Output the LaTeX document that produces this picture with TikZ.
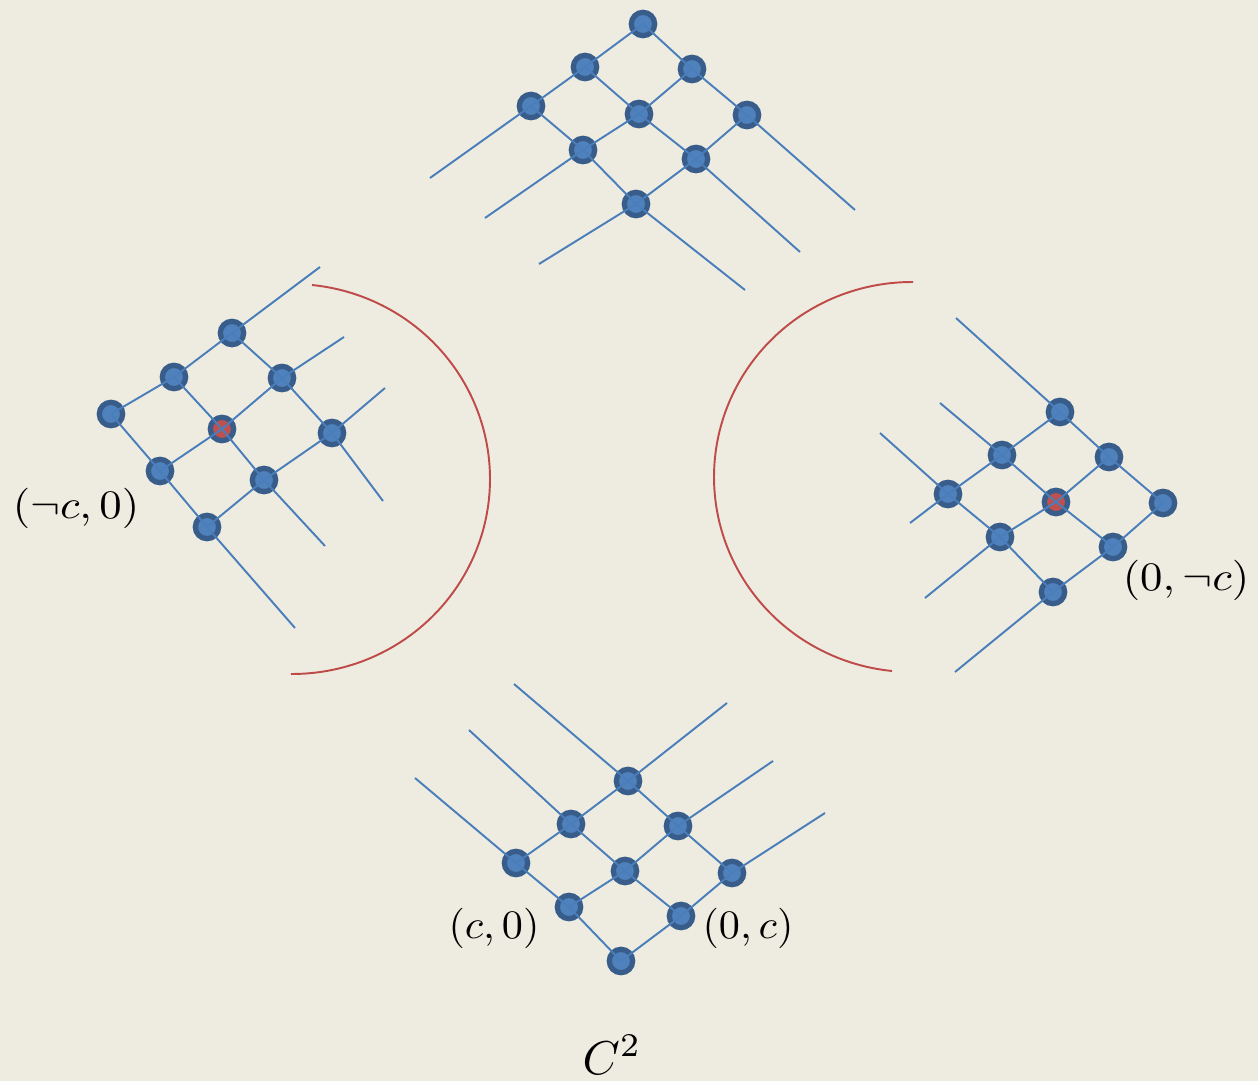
\documentclass[tikz,border=0pt]{standalone}
\usepackage{fix-cm}
\definecolor{bg}{HTML}{EEECE1}
\definecolor{nfill}{HTML}{4F81BD}
\definecolor{nborder}{HTML}{385D8A}
\definecolor{lcol}{HTML}{4A7EBB}
\definecolor{rfill}{HTML}{C0504D}
\definecolor{arccol}{HTML}{BE4B48}
\tikzset{
  dot/.style={circle, draw=nborder, fill=nfill, line width=3pt, minimum size=13.3pt, inner sep=0pt},
  reddot/.style={dot, fill=rfill},
  lat/.style={draw=lcol, line width=1.1pt},
  arcline/.style={draw=arccol, line width=1.1pt},
  lbl/.style={inner sep=0pt},
}
\begin{document}
\begin{tikzpicture}[x=0.02cm, y=-0.02cm]
\useasboundingbox (0,0) rectangle (1258,1081);
\fill[bg] (0,0) rectangle (1258,1081);

% ---------- top lattice ----------
\node[dot] (T00) at (643,24) {};
\node[dot] (T10) at (585,67) {};
\node[dot] (T20) at (531,106) {};
\node[dot] (T01) at (692,69) {};
\node[dot] (T02) at (747,115) {};
\node[dot] (T11) at (639,114) {};
\node[dot] (T21) at (583,150) {};
\node[dot] (T12) at (696,159) {};
\node[dot] (T22) at (636,204) {};
\coordinate (tu0) at (430,178);
\coordinate (tu1) at (485,218);
\coordinate (tu2) at (539,264);
\coordinate (tv0) at (855,210);
\coordinate (tv1) at (800,252);
\coordinate (tv2) at (745,290);
\draw[lat] (T00.center) -- (T10.center) -- (T20.center) -- (tu0);
\draw[lat] (T01.center) -- (T11.center) -- (T21.center) -- (tu1);
\draw[lat] (T02.center) -- (T12.center) -- (T22.center) -- (tu2);
\draw[lat] (T00.center) -- (T01.center) -- (T02.center) -- (tv0);
\draw[lat] (T10.center) -- (T11.center) -- (T12.center) -- (tv1);
\draw[lat] (T20.center) -- (T21.center) -- (T22.center) -- (tv2);

% ---------- left lattice ----------
\node[dot] (L00) at (111,414) {};
\node[dot] (L10) at (174,377) {};
\node[dot] (L20) at (232,333) {};
\node[dot] (L01) at (160,471) {};
\node[dot] (L02) at (207,527) {};
\node[reddot] (L11) at (222,429) {};
\node[dot] (L21) at (282,378) {};
\node[dot] (L12) at (264,480) {};
\node[dot] (L22) at (332,433) {};
\coordinate (lu0) at (320,267);
\coordinate (lu1) at (344,337);
\coordinate (lu2) at (385,388);
\coordinate (ld0) at (295,628);
\coordinate (ld1) at (325,546);
\coordinate (ld2) at (383,501);
\draw[lat] (L00.center) -- (L10.center) -- (L20.center) -- (lu0);
\draw[lat] (L01.center) -- (L11.center) -- (L21.center) -- (lu1);
\draw[lat] (L02.center) -- (L12.center) -- (L22.center) -- (lu2);
\draw[lat] (L00.center) -- (L01.center) -- (L02.center) -- (ld0);
\draw[lat] (L10.center) -- (L11.center) -- (L12.center) -- (ld1);
\draw[lat] (L20.center) -- (L21.center) -- (L22.center) -- (ld2);

% ---------- right lattice ----------
\node[dot] (R00) at (1163,503) {};
\node[dot] (R10) at (1109,457) {};
\node[dot] (R20) at (1060,412) {};
\node[dot] (R01) at (1113,547) {};
\node[dot] (R02) at (1053,592) {};
\node[reddot] (R11) at (1056,502) {};
\node[dot] (R21) at (1002,455) {};
\node[dot] (R12) at (1000,537) {};
\node[dot] (R22) at (948,494) {};
\coordinate (ru0) at (956,318);
\coordinate (ru1) at (940,403);
\coordinate (ru2) at (880,433);
\coordinate (rd0) at (955,672);
\coordinate (rd1) at (925,598);
\coordinate (rd2) at (910,523);
\draw[lat] (R00.center) -- (R10.center) -- (R20.center) -- (ru0);
\draw[lat] (R01.center) -- (R11.center) -- (R21.center) -- (ru1);
\draw[lat] (R02.center) -- (R12.center) -- (R22.center) -- (ru2);
\draw[lat] (R00.center) -- (R01.center) -- (R02.center) -- (rd0);
\draw[lat] (R10.center) -- (R11.center) -- (R12.center) -- (rd1);
\draw[lat] (R20.center) -- (R21.center) -- (R22.center) -- (rd2);

% ---------- bottom lattice ----------
\node[dot] (B00) at (621,961) {};
\node[dot] (B10) at (569,907) {};
\node[dot] (B20) at (516,863) {};
\node[dot] (B01) at (681,916) {};
\node[dot] (B02) at (732,873) {};
\node[dot] (B11) at (625,871) {};
\node[dot] (B21) at (571,824) {};
\node[dot] (B12) at (678,826) {};
\node[dot] (B22) at (628,781) {};
\coordinate (bu0) at (415,778);
\coordinate (bu1) at (469,730);
\coordinate (bu2) at (514,684);
\coordinate (br0) at (825,813);
\coordinate (br1) at (773,761);
\coordinate (br2) at (727,703);
\draw[lat] (B00.center) -- (B10.center) -- (B20.center) -- (bu0);
\draw[lat] (B01.center) -- (B11.center) -- (B21.center) -- (bu1);
\draw[lat] (B02.center) -- (B12.center) -- (B22.center) -- (bu2);
\draw[lat] (B00.center) -- (B01.center) -- (B02.center) -- (br0);
\draw[lat] (B10.center) -- (B11.center) -- (B12.center) -- (br1);
\draw[lat] (B20.center) -- (B21.center) -- (B22.center) -- (br2);

% ---------- red arcs ----------
\draw[arcline] plot[domain=-84.2:90.3, samples=90, smooth] ({292+198*cos(\x)}, {479+195*sin(\x)});
\draw[arcline] plot[domain=95.8:270.3, samples=90, smooth] ({912+198*cos(\x)}, {477+195*sin(\x)});

% ---------- labels ----------
\node[lbl] (lnc) at (76,508) {\scalebox{2.55}[2.3]{$(\neg c,0)$}};
\node[lbl] (l0nc) at (1186,580) {\scalebox{2.55}[2.3]{$(0,\neg c)$}};
\node[lbl] (lc0) at (494,928) {\scalebox{2.4}[2.3]{$(c,0)$}};
\node[lbl] (l0c) at (748,928) {\scalebox{2.4}[2.3]{$(0,c)$}};
\node[lbl, anchor=base] (lC2) at (612,1074) {\scalebox{2.7}{$C^2$}};
\end{tikzpicture}
\end{document}
